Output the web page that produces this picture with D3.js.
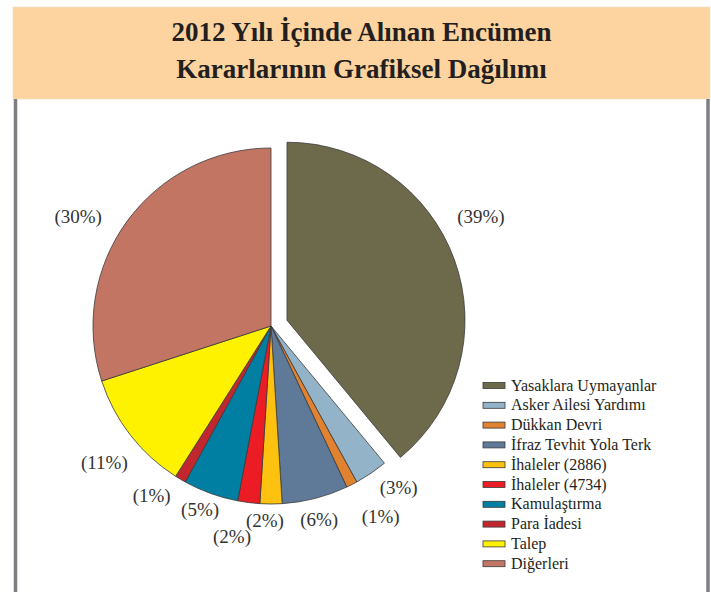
<!DOCTYPE html>
<html>
<head>
<meta charset="utf-8">
<script src="https://cdn.jsdelivr.net/npm/d3@7"></script>
<style>
  body { margin: 0; background: #fff; }
  svg { display: block; }
</style>
</head>
<body>
<div class="graph"></div>
<script>
// data
var titleLines = ['2012 Yılı İçinde Alınan Encümen', 'Kararlarının Grafiksel Dağılımı'];
var categories = ['Yasaklara Uymayanlar', 'Asker Ailesi Yardımı', 'Dükkan Devri', 'İfraz Tevhit Yola Terk',
    'İhaleler (2886)', 'İhaleler (4734)', 'Kamulaştırma', 'Para İadesi', 'Talep', 'Diğerleri'];
var percents = [39, 3, 1, 6, 2, 2, 5, 1, 11, 30];
var colors = ['#6d6a4c', '#93b3c9', '#e0822f', '#5f7a99', '#fdc210', '#ec1c24',
    '#007fa2', '#c1272d', '#fff200', '#c27563'];

// label placement (hand nudged like the original)
var labelRadius = [220, 206, 220, 199, 194, 214, 197, 207, 215, 222];
var labelTurn = [-8.4, -4.1, -2.9, 0.4, 1.8, 3.3, 1.3, 4.6, -1.4, -6.3];

// size
var width = 711, height = 592;
var cx = 271, cy = 326, radius = 178, explode = 17;

var svg = d3.select('.graph')
    .append('svg')
    .attr('width', width)
    .attr('height', height);

// header band
svg.append('rect')
    .attr('x', 13).attr('y', 7)
    .attr('width', 697).attr('height', 92)
    .style('fill', '#fdd49f')
    .style('stroke', '#e9d9c6')
    .style('stroke-width', 0.6);

svg.selectAll('.title')
    .data(titleLines)
    .enter().append('text')
    .attr('class', 'title')
    .attr('x', 361.5)
    .attr('y', function(d, i) { return 41 + i * 37; })
    .attr('text-anchor', 'middle')
    .style('font-family', '"Liberation Serif", "DejaVu Serif", serif')
    .style('font-weight', 'bold')
    .style('font-size', '27px')
    .style('fill', '#231f20')
    .text(function(d) { return d; });

// side borders
[15.5, 708].forEach(function(x) {
    svg.append('line')
        .attr('x1', x).attr('x2', x)
        .attr('y1', 99).attr('y2', height)
        .style('stroke', '#7d7d83')
        .style('stroke-width', 3.5);
});

// pie
var pie = d3.pie().sort(null).value(function(d) { return d; });
var arcs = pie(percents);
var arc = d3.arc().innerRadius(0).outerRadius(radius);

var chart = svg.append('g')
    .attr('transform', 'translate(' + cx + ',' + cy + ')');

function shift(d, i) {
    if (i !== 0) return [0, 0];
    var a = (d.startAngle + d.endAngle) / 2;
    return [explode * Math.sin(a), -explode * Math.cos(a)];
}

chart.selectAll('.slice')
    .data(arcs)
    .enter().append('path')
    .attr('class', 'slice')
    .attr('transform', function(d, i) { var s = shift(d, i); return 'translate(' + s[0] + ',' + s[1] + ')'; })
    .attr('d', arc)
    .style('fill', function(d, i) { return colors[i]; })
    .style('stroke', '#3a3a3a')
    .style('stroke-width', 0.8)
    .style('stroke-linejoin', 'round');

chart.selectAll('.pct')
    .data(arcs)
    .enter().append('text')
    .attr('class', 'pct')
    .attr('transform', function(d, i) {
        var s = shift(d, i);
        var a = (d.startAngle + d.endAngle) / 2 + labelTurn[i] * Math.PI / 180;
        var x = s[0] + labelRadius[i] * Math.sin(a);
        var y = s[1] - labelRadius[i] * Math.cos(a);
        return 'translate(' + x + ',' + y + ')';
    })
    .attr('text-anchor', 'middle')
    .attr('dy', '0.35em')
    .style('font-family', '"Liberation Serif", "DejaVu Serif", serif')
    .style('font-size', '19px')
    .style('fill', '#333')
    .text(function(d) { return '(' + d.data + '%)'; });

// legend
var legend = svg.append('g')
    .attr('transform', 'translate(483,385.5)');

var row = legend.selectAll('.row')
    .data(categories)
    .enter().append('g')
    .attr('class', 'row')
    .attr('transform', function(d, i) { return 'translate(0,' + (i * 19.8) + ')'; });

row.append('rect')
    .attr('x', 0).attr('y', -3)
    .attr('width', 22).attr('height', 6)
    .style('fill', function(d, i) { return colors[i]; })
    .style('stroke', '#3a3a3a')
    .style('stroke-width', 0.8);

row.append('text')
    .attr('x', 28)
    .attr('dy', '0.32em')
    .style('font-family', '"Liberation Serif", "DejaVu Serif", serif')
    .style('font-size', '16px')
    .style('fill', '#231f20')
    .text(function(d) { return d; });
</script>
</body>
</html>
